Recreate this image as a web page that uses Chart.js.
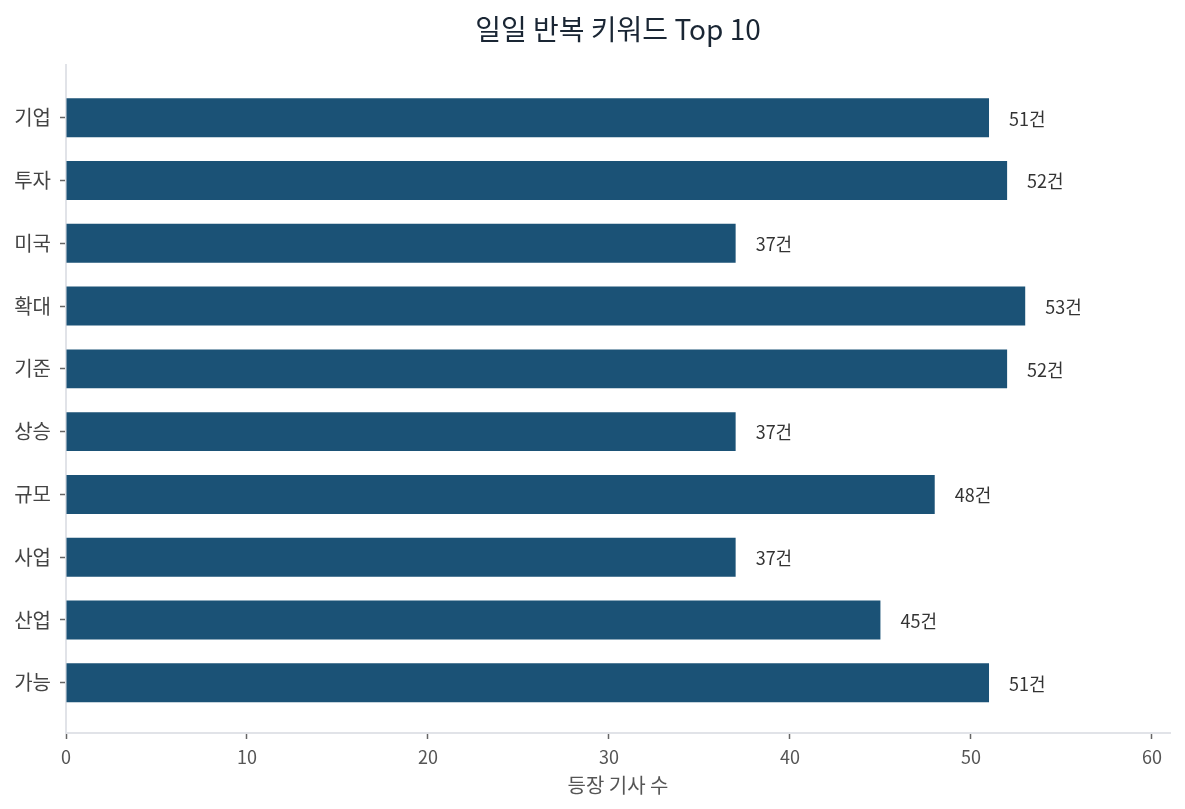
<!DOCTYPE html>
<html lang="ko">
<head>
<meta charset="utf-8">
<title>일일 반복 키워드 Top 10</title>
<script src="https://cdn.jsdelivr.net/npm/chart.js@4/dist/chart.umd.min.js"></script>
<style>
  html, body { margin: 0; padding: 0; background: #fff; }
  #wrap { width: 1185px; height: 809px; }
</style>
</head>
<body>
<div id="wrap"><canvas id="myChart" width="1185" height="809"></canvas></div>
<script>
// 데이터
const keywords = ['기업', '투자', '미국', '확대', '기준', '상승', '규모', '사업', '산업', '가능'];
const counts = [51, 52, 37, 53, 52, 37, 48, 37, 45, 51];
const xTicks = [0, 10, 20, 30, 40, 50, 60];

const FONT = '"Noto Sans CJK KR", "Noto Sans", sans-serif';

// 제목을 차트 영역 가운데에 맞춤
const centerTitle = {
  id: 'centerTitle',
  afterLayout(chart) {
    const t = chart.titleBlock;
    if (!t) return;
    t.left = chart.chartArea.left;
    t.right = chart.chartArea.right;
  }
};

// 막대 끝에 값 표시
const valueLabels = {
  id: 'valueLabels',
  afterDatasetsDraw(chart) {
    const ctx = chart.ctx;
    const meta = chart.getDatasetMeta(0);
    ctx.save();
    ctx.font = '18px ' + FONT;
    ctx.fillStyle = '#333333';
    ctx.textAlign = 'left';
    ctx.textBaseline = 'middle';
    meta.data.forEach((bar, i) => {
      ctx.fillText(counts[i] + '건', bar.x + 20, bar.y + 1);
    });
    ctx.restore();
  }
};

const ctx = document.getElementById('myChart').getContext('2d');
new Chart(ctx, {
  type: 'bar',
  data: {
    datasets: [{
      data: counts.map((v, i) => ({ x: v, y: i })),
      backgroundColor: '#1b5276',
      borderWidth: 0,
      categoryPercentage: 1,
      barPercentage: 0.62
    }]
  },
  options: {
    indexAxis: 'y',
    responsive: false,
    animation: false,
    layout: { padding: { left: 0, right: 15, top: 0, bottom: 0 } },
    plugins: {
      legend: { display: false },
      tooltip: { enabled: false },
      title: {
        display: true,
        text: '일일 반복 키워드 Top 10',
        color: '#1a2634',
        font: { family: FONT, size: 28, weight: 'normal' },
        padding: { top: 13, bottom: 18.4 }
      }
    },
    scales: {
      x: {
        type: 'linear',
        min: 0,
        max: 61,
        afterBuildTicks: (axis) => { axis.ticks = xTicks.map(v => ({ value: v })); },
        afterFit: (axis) => { axis.height = 76; },
        grid: { display: true, drawOnChartArea: false, drawTicks: true, tickLength: 6, tickColor: '#666666', tickWidth: 1.5 },
        border: { display: true, color: '#e1e3e8', width: 2 },
        ticks: { color: '#555555', font: { family: FONT, size: 18 }, padding: 7 },
        title: {
          display: true,
          text: '등장 기사 수',
          color: '#555555',
          font: { family: FONT, size: 20 },
          padding: { top: 4, bottom: 12 }
        }
      },
      y: {
        type: 'linear',
        reverse: true,
        offset: false,
        min: -0.84,
        max: 9.8,
        afterBuildTicks: (axis) => { axis.ticks = keywords.map((_, i) => ({ value: i })); },
        afterFit: (axis) => { axis.width = 66; },
        grid: { display: true, offset: false, drawOnChartArea: false, drawTicks: true, tickLength: 6, tickColor: '#666666', tickWidth: 1.5 },
        border: { display: true, color: '#e1e3e8', width: 2 },
        ticks: {
          autoSkip: false,
          color: '#444444',
          font: { family: FONT, size: 20 },
          padding: 9,
          callback: (value) => keywords[value] ?? ''
        }
      }
    }
  },
  plugins: [centerTitle, valueLabels]
});
</script>
</body>
</html>
